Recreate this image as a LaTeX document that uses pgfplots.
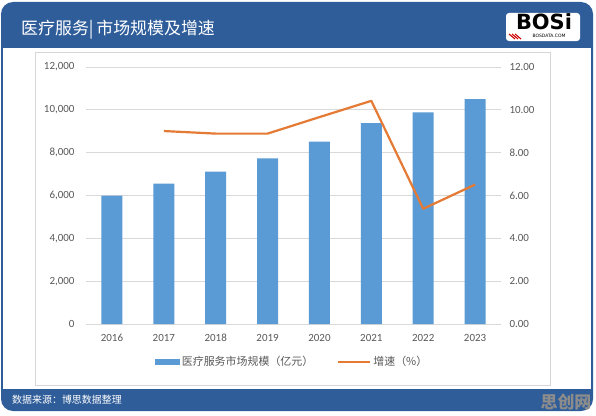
\documentclass[border=0pt]{standalone}
\usepackage{pgfplots}
\pgfplotsset{compat=1.18}
\usepackage{fontspec}
\setmainfont{Carlito}
\newfontfamily\cjk{Noto Sans CJK SC}
\newfontfamily\logofont{DejaVu Sans}

\definecolor{hdrblue}{HTML}{2F5D9A}
\definecolor{barblue}{HTML}{5B9BD5}
\definecolor{lineorange}{HTML}{E47A33}
\definecolor{ticktext}{HTML}{595959}
\definecolor{gridgray}{HTML}{D9D9D9}
\definecolor{panelgray}{HTML}{D6D6D6}

\begin{document}
\begin{tikzpicture}[x=1bp,y=1bp]
\useasboundingbox (0,0) rectangle (596,415);

% frame: header and footer bands with a white body
\fill[hdrblue, rounded corners=12bp] (1,4) rectangle (593,413);
\fill[white] (2.8,26) rectangle (591.2,367);
\draw[panelgray, line width=0.8bp] (35,30) rectangle (550,363);

% title
\node[anchor=west, text=white, inner sep=0pt, font=\cjk\fontsize{17}{20}\selectfont] at (21,385) {医疗服务|\,市场规模及增速};

% logo
\fill[white, rounded corners=3bp] (506,374) rectangle (580,402);
\node[inner sep=0pt, font=\logofont\bfseries\fontsize{21}{22}\selectfont] at (544,393) {BOSi};
\node[inner sep=0pt, font=\logofont\fontsize{4.5}{5}\selectfont] at (549,379) {BOSDATA.COM};
\foreach \d in {0,3,6}{\draw[red!80!black, line width=1.1bp] (509+\d,381) -- (515+\d,376);}

% footer
\node[anchor=west, text=white, inner sep=0pt, font=\cjk\fontsize{10}{12}\selectfont] at (12,15) {数据来源：博思数据整理};
\node[inner sep=0pt, text=black!45, font=\cjk\bfseries\fontsize{17}{19}\selectfont] at (566,13) {思创网};

% market size (bars, left axis)
\begin{axis}[
  at={(86bp,91bp)}, anchor=south west,
  scale only axis, width=415bp, height=257bp,
  xmin=-0.5, xmax=7.5, ymin=0, ymax=12000,
  xtick={0,...,7},
  xticklabels={2016,2017,2018,2019,2020,2021,2022,2023},
  ytick={0,2000,...,12000},
  /pgf/number format/assume math mode=true,
  /pgf/number format/1000 sep={,},
  scaled y ticks=false,
  ymajorgrids, major grid style={gridgray, line width=0.8bp},
  axis x line*=bottom, axis y line*=left,
  x axis line style={gridgray, line width=0.8bp, -},
  y axis line style={draw=none},
  major tick length=0pt,
  tick style={draw=none},
  tick label style={text=ticktext, font=\fontsize{11}{13}\selectfont},
  yticklabel style={anchor=east, xshift=-8bp},
  xticklabel style={anchor=north, yshift=-6bp, text height=8bp, text depth=1bp},
  clip=false,
  legend style={at={(0.4965,-0.148)}, anchor=center, draw=none, fill=none,
    legend columns=2, font=\cjk\fontsize{11}{13}\selectfont, text=ticktext,
    /tikz/every even column/.append style={column sep=22bp}},
]
\addplot[ybar, bar width=21bp, fill=barblue, draw=none,
  legend image code/.code={\fill[barblue] (0bp,-3bp) rectangle (25bp,3bp);}]
  coordinates {(0,6000) (1,6550) (2,7110) (3,7730) (4,8520) (5,9380) (6,9880) (7,10500)};
\addlegendentry{医疗服务市场规模（亿元）}
\addlegendimage{lineorange, line width=2bp,
  legend image code/.code={\draw[lineorange, line width=2bp] (0bp,0bp) -- (32bp,0bp);}}
\addlegendentry{增速（\%）}
\end{axis}

% growth rate (line, right axis)
\begin{axis}[
  at={(86bp,91bp)}, anchor=south west,
  scale only axis, width=415bp, height=257bp,
  xmin=-0.5, xmax=7.5, ymin=0, ymax=12,
  axis x line=none, axis y line*=right,
  y axis line style={draw=none},
  ytick={0,2,...,12},
  /pgf/number format/assume math mode=true,
  yticklabel style={xshift=5bp, /pgf/number format/.cd, fixed, fixed zerofill, precision=2},
  major tick length=0pt,
  tick label style={text=ticktext, font=\fontsize{11}{13}\selectfont},
  ytick style={draw=none},
]
\addplot[lineorange, line width=2.2bp, line join=round, mark=none]
  coordinates {(1,9.01) (2,8.89) (3,8.89) (4,9.66) (5,10.42) (6,5.38) (7,6.51)};
\end{axis}
\end{tikzpicture}
\end{document}
